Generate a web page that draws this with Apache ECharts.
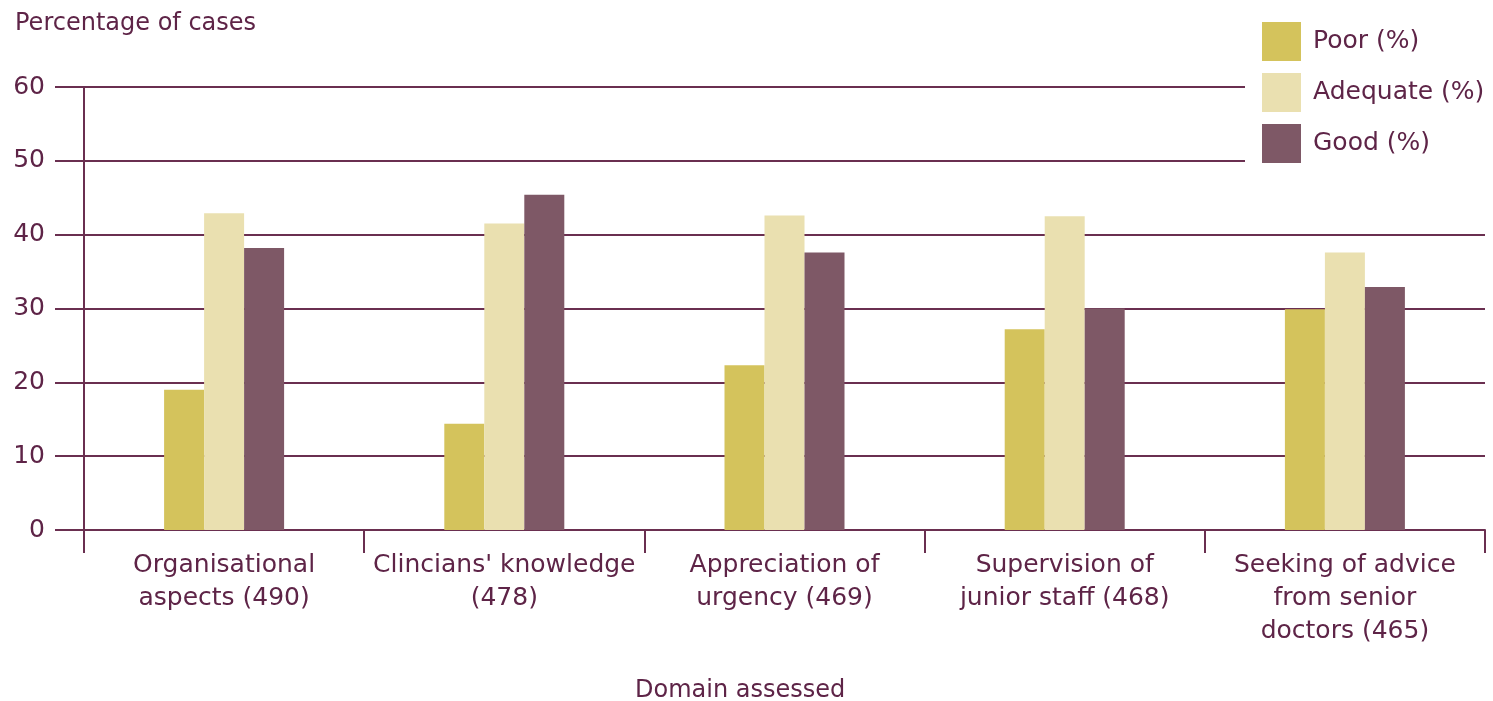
<!DOCTYPE html>
<html>
<head>
<meta charset="utf-8">
<script src="https://cdn.jsdelivr.net/npm/echarts@6/dist/echarts.min.js"></script>
<style>
  html, body { margin: 0; padding: 0; background: #ffffff; }
  #chart { width: 1493px; height: 701px; }
</style>
</head>
<body>
<div id="chart"></div>
<script>
// Domains assessed, with number of cases in brackets
const categories = [
  'Organisational\naspects (490)',
  "Clincians' knowledge\n(478)",
  'Appreciation of\nurgency (469)',
  'Supervision of\njunior staff (468)',
  'Seeking of advice\nfrom senior\ndoctors (465)'
];
const poor     = [19.0, 14.4, 22.3, 27.2, 29.9];
const adequate = [42.9, 41.5, 42.6, 42.5, 37.6];
const good     = [38.2, 45.4, 37.6, 30.0, 32.9];
const yTicks   = [0, 10, 20, 30, 40, 50, 60];

const ink = '#5e2447';
const lineColor = '#6a2f50';
const font = 'DejaVu Sans';

const chart = echarts.init(document.getElementById('chart'), null, { renderer: 'canvas' });

const barSeries = (name, data, color) => ({
  name: name,
  type: 'bar',
  data: data,
  barWidth: 40,
  barGap: '0%',
  itemStyle: { color: color },
  emphasis: { disabled: true },
  z: 3
});

chart.setOption({
  animation: false,
  backgroundColor: '#ffffff',
  textStyle: { fontFamily: font, color: ink },
  title: [
    { text: 'Percentage of cases', left: 10, top: 7,
      textStyle: { fontFamily: font, fontSize: 24, fontWeight: 'normal', color: ink } },
    { text: 'Domain assessed', left: 630, top: 674,
      textStyle: { fontFamily: font, fontSize: 24, fontWeight: 'normal', color: ink } }
  ],
  legend: {
    orient: 'vertical',
    left: 1245,
    top: 17,
    padding: [5, 10, 5, 17],
    backgroundColor: '#ffffff',
    z: 10,
    itemWidth: 39,
    itemHeight: 39,
    itemGap: 12,
    icon: 'rect',
    textStyle: { fontFamily: font, fontSize: 25, color: ink, padding: [0, 0, 0, 7] },
    data: ['Poor (%)', 'Adequate (%)', 'Good (%)']
  },
  grid: { left: 84, right: 8, top: 87, bottom: 171, containLabel: false },
  xAxis: {
    type: 'category',
    data: categories,
    boundaryGap: true,
    axisLine: { show: true, lineStyle: { color: lineColor, width: 2 } },
    axisTick: { show: true, length: 23, alignWithLabel: false, lineStyle: { color: lineColor, width: 2 } },
    axisLabel: {
      interval: 0,
      margin: 19,
      fontFamily: font,
      fontSize: 25,
      lineHeight: 33,
      color: ink,
      align: 'center'
    }
  },
  yAxis: {
    type: 'value',
    min: yTicks[0],
    max: yTicks[yTicks.length - 1],
    interval: 10,
    axisLine: { show: true, lineStyle: { color: lineColor, width: 2 } },
    axisTick: { show: true, length: 29, lineStyle: { color: lineColor, width: 2 } },
    splitLine: { show: true, lineStyle: { color: lineColor, width: 2 } },
    axisLabel: { margin: 39, fontFamily: font, fontSize: 25, color: ink }
  },
  series: [
    barSeries('Poor (%)', poor, '#d4c35c'),
    barSeries('Adequate (%)', adequate, '#eae0b0'),
    barSeries('Good (%)', good, '#7e5866')
  ]
});
</script>
</body>
</html>
